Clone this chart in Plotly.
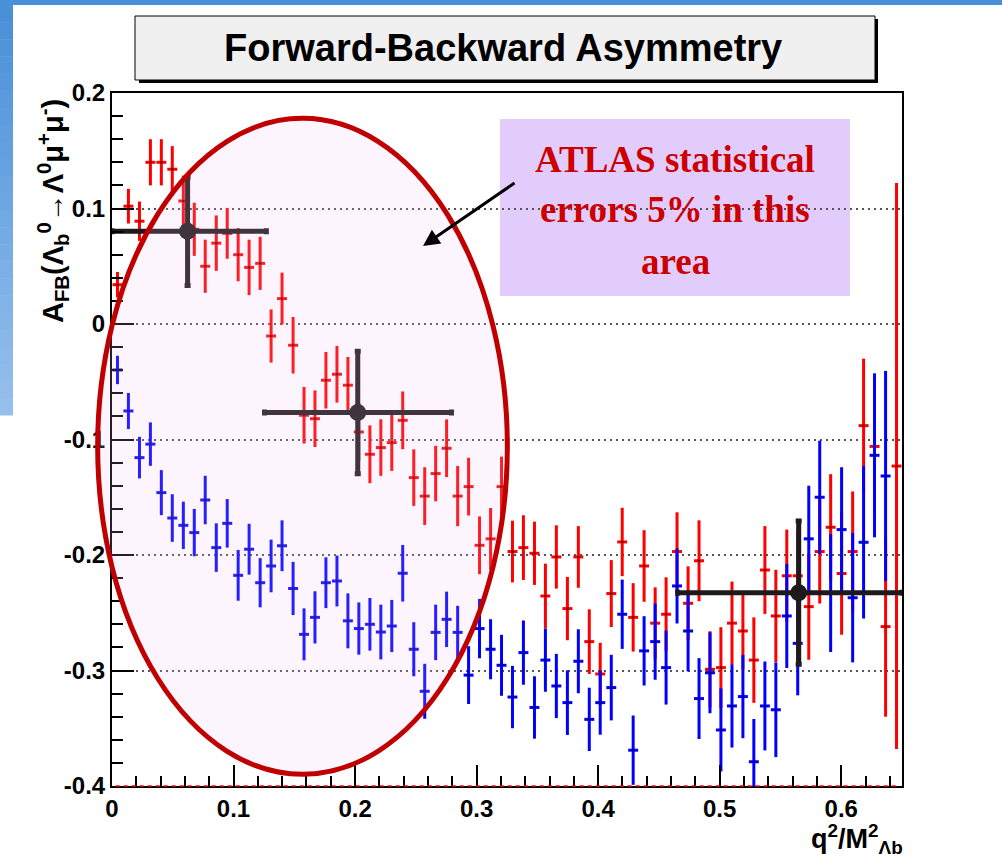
import plotly.graph_objects as go

# ---------------- data ----------------
bin_centers = [0.0045, 0.0135, 0.0226, 0.0316, 0.0406, 0.0496, 0.0587, 0.0677, 0.0767, 0.0858,
               0.0948, 0.1038, 0.1128, 0.1219, 0.1309, 0.1399, 0.1490, 0.1580, 0.1670, 0.1760,
               0.1851, 0.1941, 0.2031, 0.2122, 0.2212, 0.2302, 0.2392, 0.2483, 0.2573, 0.2663,
               0.2753, 0.2844, 0.2934, 0.3024, 0.3115, 0.3205, 0.3295, 0.3385, 0.3476, 0.3566,
               0.3656, 0.3747, 0.3837, 0.3927, 0.4017, 0.4108, 0.4198, 0.4288, 0.4378, 0.4469,
               0.4559, 0.4649, 0.4740, 0.4830, 0.4920, 0.5010, 0.5101, 0.5191, 0.5281, 0.5372,
               0.5462, 0.5552, 0.5642, 0.5733, 0.5823, 0.5913, 0.6003, 0.6094, 0.6184, 0.6274,
               0.6365, 0.6455]

red_afb = [0.034, 0.102, 0.089, 0.140, 0.140, 0.134, 0.1065, 0.082, 0.050, 0.070,
           0.0785, 0.060, 0.049, 0.0525, -0.0104, 0.022, -0.0184, -0.079, -0.082, -0.0487,
           -0.0435, -0.053, -0.0935, -0.1128, -0.107, -0.1027, -0.0834, -0.133, -0.149, -0.1295,
           -0.1076, -0.149, -0.1408, -0.1916, -0.186, -0.1408, -0.197, -0.1936, -0.1985, -0.2355,
           -0.2017, -0.2464, -0.2017, -0.275, -0.303, -0.2334, -0.1887, -0.254, -0.2095, -0.259,
           -0.2513, -0.197, -0.2418, -0.205, -0.299, -0.2975, -0.259, -0.2658, -0.291, -0.213,
           -0.2528, -0.218, -0.218, -0.2447, -0.197, -0.176, -0.216, -0.197, -0.088, -0.106,
           -0.262, -0.123]
red_err = [0.011, 0.015, 0.017, 0.020, 0.020, 0.020, 0.022, 0.023, 0.023, 0.024,
           0.022, 0.023, 0.024, 0.023, 0.023, 0.0225, 0.0245, 0.0245, 0.0245, 0.0245,
           0.0245, 0.0245, 0.025, 0.025, 0.0245, 0.0245, 0.025, 0.0245, 0.025, 0.024,
           0.025, 0.026, 0.025, 0.025, 0.0267, 0.026, 0.0267, 0.028, 0.0274, 0.028,
           0.0274, 0.0274, 0.0267, 0.028, 0.027, 0.029, 0.0296, 0.0296, 0.031, 0.031,
           0.032, 0.034, 0.032, 0.035, 0.033, 0.035, 0.036, 0.033, 0.037, 0.038,
           0.040, 0.040, 0.040, 0.046, 0.045, 0.046, 0.053, 0.052, 0.058, 0.058,
           0.078, 0.245]

blue_afb = [-0.0398, -0.0753, -0.1157, -0.104, -0.146, -0.168, -0.1743, -0.1806, -0.1524, -0.1936,
            -0.1726, -0.2176, -0.195, -0.224, -0.2095, -0.192, -0.229, -0.2687, -0.254, -0.224,
            -0.2225, -0.257, -0.2637, -0.260, -0.2667, -0.2615, -0.2158, -0.2816, -0.318, -0.267,
            -0.2557, -0.267, -0.304, -0.2637, -0.2816, -0.2955, -0.323, -0.2845, -0.332, -0.291,
            -0.3134, -0.3278, -0.292, -0.3423, -0.3278, -0.3148, -0.2513, -0.369, -0.283, -0.275,
            -0.2975, -0.2268, -0.2658, -0.3243, -0.302, -0.3515, -0.3307, -0.3226, -0.379, -0.3307,
            -0.334, -0.2528, -0.2765, -0.186, -0.150, -0.233, -0.178, -0.237, -0.189, -0.1137,
            -0.1316, None]
blue_err = [0.0123, 0.0156, 0.018, 0.0188, 0.0195, 0.0206, 0.0205, 0.0205, 0.021, 0.021,
            0.021, 0.022, 0.022, 0.0213, 0.0228, 0.022, 0.023, 0.0225, 0.0226, 0.022,
            0.022, 0.0238, 0.0226, 0.0228, 0.0237, 0.0226, 0.0245, 0.0234, 0.0238, 0.024,
            0.024, 0.023, 0.025, 0.0257, 0.026, 0.0264, 0.027, 0.0278, 0.027, 0.0274,
            0.0278, 0.028, 0.0277, 0.0274, 0.0278, 0.0284, 0.030, 0.030, 0.030, 0.033,
            0.032, 0.0325, 0.035, 0.035, 0.035, 0.036, 0.036, 0.036, 0.037, 0.0385,
            0.041, 0.045, 0.045, 0.046, 0.049, 0.051, 0.054, 0.056, 0.066, 0.071,
            0.091, None]

atlas_x = [0.0622, 0.2022, 0.565]
atlas_y = [0.0803, -0.0767, -0.2326]
atlas_xerr_minus = [0.0622, 0.0767, 0.0996]
atlas_xerr_plus = [0.0648, 0.0771, 0.085]
atlas_yerr = [0.047, 0.053, 0.062]

x_tickvals = [0, 0.1, 0.2, 0.3, 0.4, 0.5, 0.6]
x_ticktext = ["0", "0.1", "0.2", "0.3", "0.4", "0.5", "0.6"]
y_tickvals = [0.2, 0.1, 0, -0.1, -0.2, -0.3, -0.4]
y_ticktext = ["0.2", "0.1", "0", "-0.1", "-0.2", "-0.3", "-0.4"]

title_text = "Forward-Backward Asymmetry"
note_lines = ["ATLAS statistical", "errors 5% in this", "area"]

# ---------------- layout geometry ----------------
W, H = 1002, 866
L, R, T, B = 112, 100, 93, 80
PW, PH = W - L - R, H - T - B
XR = [0, 0.65]
YR = [-0.4, 0.2]


def px(xpix):
    return (xpix - L) / PW


def py(ypix):
    return (H - B - ypix) / PH


def dx(xd):
    return (xd - XR[0]) / (XR[1] - XR[0])


def dy(yd):
    return (yd - YR[0]) / (YR[1] - YR[0])


fig = go.Figure()

fig.add_trace(go.Scatter(
    x=bin_centers, y=red_afb, mode="markers",
    marker=dict(symbol="square", size=2, color="#400000"),
    error_y=dict(type="data", array=red_err, thickness=3, width=0, color="#ff0000"),
    error_x=dict(type="constant", value=0.0041, thickness=3, width=0, color="#ff0000"),
    showlegend=False, cliponaxis=True, hoverinfo="skip"))

fig.add_trace(go.Scatter(
    x=bin_centers, y=blue_afb, mode="markers",
    marker=dict(symbol="square", size=2, color="#000040"),
    error_y=dict(type="data", array=blue_err, thickness=3, width=0, color="#0000ff"),
    error_x=dict(type="constant", value=0.0041, thickness=3, width=0, color="#0000ff"),
    showlegend=False, cliponaxis=True, hoverinfo="skip"))

fig.add_trace(go.Scatter(
    x=atlas_x, y=atlas_y, mode="markers",
    marker=dict(symbol="circle", size=17, color="#1e1a1c"),
    error_y=dict(type="data", array=atlas_yerr, thickness=5, width=3, color="#1e1a1c"),
    error_x=dict(type="data", array=atlas_xerr_plus, arrayminus=atlas_xerr_minus,
                 thickness=5, width=3, color="#1e1a1c"),
    showlegend=False, cliponaxis=False, hoverinfo="skip"))

shapes = []
# slide decoration: top band and left gradient bar
shapes.append(dict(type="rect", xref="paper", yref="paper", x0=px(0), x1=px(W), y0=py(0), y1=py(5),
                   fillcolor="#4a90d9", line=dict(width=0), layer="above"))
n = 24
for i in range(n):
    t = i / (n - 1)
    r = int(74 + t * (150 - 74))
    g = int(144 + t * (192 - 144))
    b = int(217 + t * (236 - 217))
    y0p = 5 + i * (415 - 5) / n
    y1p = 5 + (i + 1) * (415 - 5) / n
    shapes.append(dict(type="rect", xref="paper", yref="paper", x0=px(0), x1=px(13),
                       y0=py(y0p), y1=py(y1p + 0.5), fillcolor=f"rgb({r},{g},{b})",
                       line=dict(width=0), layer="above"))

# title box with shadow
shapes.append(dict(type="rect", xref="paper", yref="paper", x0=px(139), x1=px(878), y0=py(19), y1=py(83),
                   fillcolor="#000000", line=dict(width=0), layer="above"))
shapes.append(dict(type="rect", xref="paper", yref="paper", x0=px(135), x1=px(875), y0=py(16), y1=py(80),
                   fillcolor="#f0f0f0", line=dict(width=1, color="#000000"), layer="above"))

# lavender note box (under the grid)
shapes.append(dict(type="rect", xref="paper", yref="paper", x0=px(500), x1=px(850), y0=py(119), y1=py(296),
                   fillcolor="#e2ccfb", line=dict(width=0), layer="below"))

# red dashes on the bottom axis
shapes.append(dict(type="line", xref="paper", yref="paper", x0=dx(0.003), x1=dx(0.648), y0=0, y1=0,
                   line=dict(color="#ff0000", width=1.5, dash="4px,4px"), layer="above"))

# highlight ellipse
shapes.append(dict(type="circle", xref="paper", yref="paper",
                   x0=dx(-0.0118), x1=dx(0.3253), y0=dy(-0.3899), y1=dy(0.1781),
                   fillcolor="rgba(240,190,240,0.16)", line=dict(color="#c00000", width=5),
                   layer="above"))

annotations = []
annotations.append(dict(xref="paper", yref="paper", x=px(503), y=py(48), text=f"<b>{title_text}</b>",
                        showarrow=False, xanchor="center", yanchor="middle",
                        font=dict(family="Liberation Sans, Arial", size=38, color="#000000")))
for ln, yc in zip(note_lines, [159, 210, 261]):
    annotations.append(dict(xref="paper", yref="paper", x=px(675), y=py(yc), text=f"<b>{ln}</b>",
                            showarrow=False, xanchor="center", yanchor="middle",
                            font=dict(family="Liberation Serif, Times New Roman, serif", size=37,
                                      color="#cc0000")))
annotations.append(dict(xref="paper", yref="paper", x=px(423), y=py(246), text="",
                        showarrow=True, ax=93, ay=-64, arrowhead=2, arrowsize=1.1, arrowwidth=3,
                        arrowcolor="#000000", standoff=0))
annotations.append(dict(xref="paper", yref="paper", x=px(53), y=py(211),
                        text="<b>A<sub>FB</sub>(Λ<sub>b</sub><sup>0</sup>→Λ<sup>0</sup>μ<sup>+</sup>μ<sup>-</sup>)</b>",
                        textangle=-90, showarrow=False, xanchor="center", yanchor="middle",
                        font=dict(family="Liberation Sans, Arial", size=29, color="#000000")))
annotations.append(dict(xref="paper", yref="paper", x=px(905), y=py(818),
                        text="<b>q<sup>2</sup>/M<sup>2</sup><sub>Λb</sub></b>",
                        showarrow=False, xanchor="right", yanchor="top",
                        font=dict(family="Liberation Sans, Arial", size=27, color="#000000")))

tickfont = dict(family="Liberation Sans, Arial", size=24, color="#000000", weight="bold")

fig.update_layout(
    width=W, height=H,
    margin=dict(l=L, r=R, t=T, b=B, pad=0),
    paper_bgcolor="#ffffff", plot_bgcolor="rgba(0,0,0,0)",
    shapes=shapes, annotations=annotations, showlegend=False,
    xaxis=dict(range=XR, tickvals=x_tickvals, ticktext=x_ticktext, ticks="inside", ticklen=21,
               tickwidth=1.5, tickcolor="#000000", showgrid=False, zeroline=False,
               showline=True, linecolor="#000000", linewidth=2, mirror=True, tickfont=tickfont,
               minor=dict(ticks="inside", ticklen=10, dtick=0.02, tickcolor="#000000", tickwidth=1.5,
                          showgrid=False)),
    yaxis=dict(range=YR, tickvals=y_tickvals, ticktext=y_ticktext, ticks="inside", ticklen=22,
               tickwidth=1.5, tickcolor="#000000", showgrid=True, gridcolor="#555555", gridwidth=1.5,
               griddash="2px,4px", zeroline=False,
               showline=True, linecolor="#000000", linewidth=2, mirror=True, tickfont=tickfont,
               minor=dict(ticks="inside", ticklen=11, dtick=0.02, tickcolor="#000000", tickwidth=1.5,
                          showgrid=False)),
)

fig.write_html("out.html", config={"displayModeBar": False},
               post_script="document.body.style.margin='0';document.body.style.overflow='hidden';"
                           "document.documentElement.style.overflow='hidden';")
